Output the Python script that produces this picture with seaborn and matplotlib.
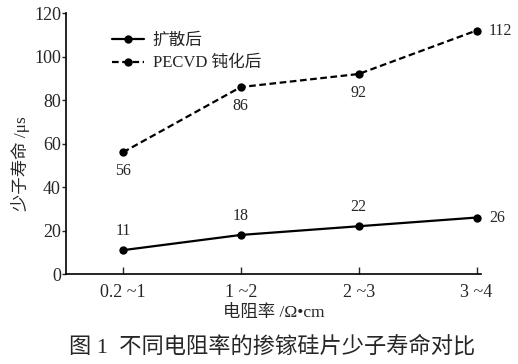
import seaborn as sns
import matplotlib.pyplot as plt
import numpy as np
import pandas as pd

# data
categories = ['0.2 ~1', '1 ~2', '2 ~3', '3 ~4']
after_diffusion = [11, 18, 22, 26]
after_pecvd = [56, 86, 92, 112]
series_names = ['扩散后', 'PECVD 钝化后']

sns.set_style("white")
plt.rcParams['font.family'] = ['Liberation Serif', 'Noto Sans CJK SC']

pos = np.arange(len(categories))
df = pd.DataFrame({
    'pos': np.concatenate([pos, pos]),
    'value': after_diffusion + after_pecvd,
    'series': [series_names[0]] * len(pos) + [series_names[1]] * len(pos),
})

fig = plt.figure(figsize=(5.18, 3.64), dpi=100)
ax = fig.add_axes([0.127, 0.247, 0.802, 0.717])

sns.lineplot(data=df, x='pos', y='value', hue='series', style='series',
             palette=['black', 'black'], dashes=[(None, None), (3, 1.6)],
             markers=['o', 'o'], markersize=6, markeredgewidth=0,
             linewidth=1.6, ax=ax)

# value labels
for i, v in enumerate(after_diffusion):
    if i == len(pos) - 1:
        ax.annotate(str(v), (i, v), xytext=(9, 0), textcoords='offset points',
                    ha='left', va='center', fontsize=11.5)
    else:
        ax.annotate(str(v), (i, v), xytext=(0, 8), textcoords='offset points',
                    ha='center', va='bottom', fontsize=11.5)
for i, v in enumerate(after_pecvd):
    if i == len(pos) - 1:
        ax.annotate(str(v), (i, v), xytext=(9, 0), textcoords='offset points',
                    ha='left', va='center', fontsize=11.5)
    else:
        ax.annotate(str(v), (i, v), xytext=(0, -8), textcoords='offset points',
                    ha='center', va='top', fontsize=11.5)

ax.set_xlim(-0.485, 3.04)
ax.set_ylim(0, 120)
ax.set_xticks(pos)
ax.set_xticklabels(categories, fontsize=13)
ax.set_yticks(np.arange(0, 121, 20))
ax.tick_params(axis='y', direction='out', length=3, width=1, labelsize=13, pad=0.5)
ax.tick_params(axis='x', direction='in', length=5, width=1, labelsize=13, pad=7)
ax.tick_params(left=True, bottom=True)
sns.despine(ax=ax)
for s in ['left', 'bottom']:
    ax.spines[s].set_color('black')
    ax.spines[s].set_linewidth(1.2)

ax.set_xlabel('电阻率 /Ω•cm', fontsize=12.5, labelpad=3)
ax.set_ylabel('少子寿命 /μs', fontsize=12.5)
ax.yaxis.set_label_coords(-0.085, 0.425)

leg = ax.legend(loc='upper left', bbox_to_anchor=(0.111, 0.925), frameon=False,
                fontsize=12, handlelength=1.9, handletextpad=0.55,
                labelspacing=0.4, borderpad=0, borderaxespad=0, title=None)

fig.text(0.525, 0.047, '图 1  不同电阻率的掺镓硅片少子寿命对比', ha='center',
         va='center', fontsize=16)

fig.savefig('out.png', dpi=100)
